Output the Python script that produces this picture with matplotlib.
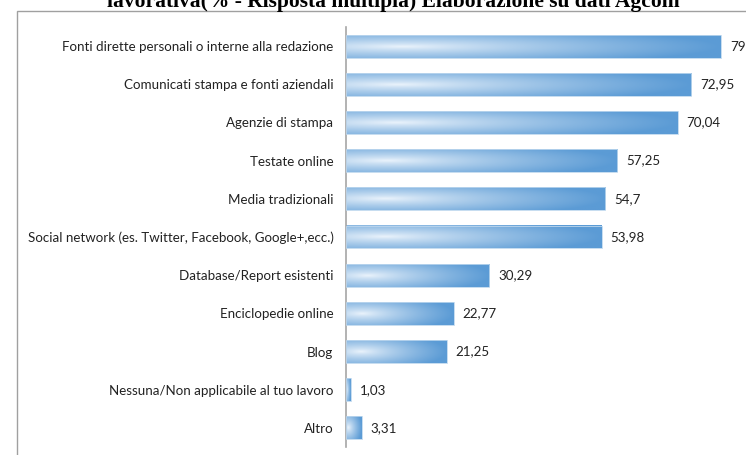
import numpy as np
import matplotlib.pyplot as plt
from matplotlib.patches import Rectangle
from matplotlib.colors import to_rgb

# Data (top to bottom as in the picture)
categories = [
    "Fonti dirette personali o interne alla redazione",
    "Comunicati stampa e fonti aziendali",
    "Agenzie di stampa",
    "Testate online",
    "Media tradizionali",
    "Social network (es. Twitter, Facebook, Google+,ecc.)",
    "Database/Report esistenti",
    "Enciclopedie online",
    "Blog",
    "Nessuna/Non applicabile al tuo lavoro",
    "Altro",
]
values = [79.15, 72.95, 70.04, 57.25, 54.7, 53.98, 30.29, 22.77, 21.25, 1.03, 3.31]
value_labels = ["79,15", "72,95", "70,04", "57,25", "54,7", "53,98",
                "30,29", "22,77", "21,25", "1,03", "3,31"]

title = "lavorativa(% - Risposta multipla) Elaborazione su dati Agcom"

W, H = 746, 455
fig = plt.figure(figsize=(W / 100, H / 100), dpi=100)

# axes placed in pixel coords: left 346, right 746, top 27, bottom 447
ax = fig.add_axes([346 / W, (H - 447) / H, 400 / W, 420 / H])
xmax = 400 / 4.735
n = len(categories)
ax.set_xlim(0, xmax)
ax.set_ylim(n - 0.5, -0.5)

blue = np.array(to_rgb("#5B9BD5"))
light = np.array([0.93, 0.96, 0.99])
bh = 0.6

# gradient texture shared by all bars (scaled to bar size)
gx = np.linspace(0, 1, 200)[None, :]
gy = np.linspace(0, 1, 40)[:, None]
d = np.sqrt(((gx - 0.15) / 0.85) ** 2 + ((gy - 0.5) / 0.5) ** 2 * 0.35)
d = np.clip(d, 0, 1) ** 0.8
grad = light[None, None, :] * (1 - d[..., None]) + blue[None, None, :] * d[..., None]

for i, v in enumerate(values):
    ax.imshow(grad, extent=(0, v, i + bh / 2, i - bh / 2), aspect="auto",
              interpolation="bilinear", zorder=2)
    ax.add_patch(Rectangle((0, i - bh / 2), v, bh, fill=False,
                           edgecolor="#BDD7EE", linewidth=0.6, zorder=3))
    ax.text(v + 1.9, i, value_labels[i], va="center", ha="left",
            fontsize=9.6, family="Lato", color="#222222", clip_on=False)

ax.set_yticks(range(n))
ax.set_yticklabels(categories, fontsize=9.6, family="Lato", color="#222222")
ax.tick_params(axis="y", length=0, pad=9)
ax.set_xticks([])
for s in ["top", "right", "bottom"]:
    ax.spines[s].set_visible(False)
ax.spines["left"].set_color("#A6A6A6")
ax.spines["left"].set_linewidth(1.2)
ax.patch.set_alpha(0)

# outer chart frame (runs off the right and bottom of the crop)
fig.patches.append(Rectangle((17 / W, -0.05), 1.0, (H - 11) / H + 0.05,
                             transform=fig.transFigure, fill=False,
                             edgecolor="#A0A0A0", linewidth=1.0))

fig.text(393 / W, (H - 7) / H, title, ha="center", va="baseline",
         fontsize=15.5, fontweight="bold", family="Liberation Serif")

fig.savefig("out.png", dpi=100)
